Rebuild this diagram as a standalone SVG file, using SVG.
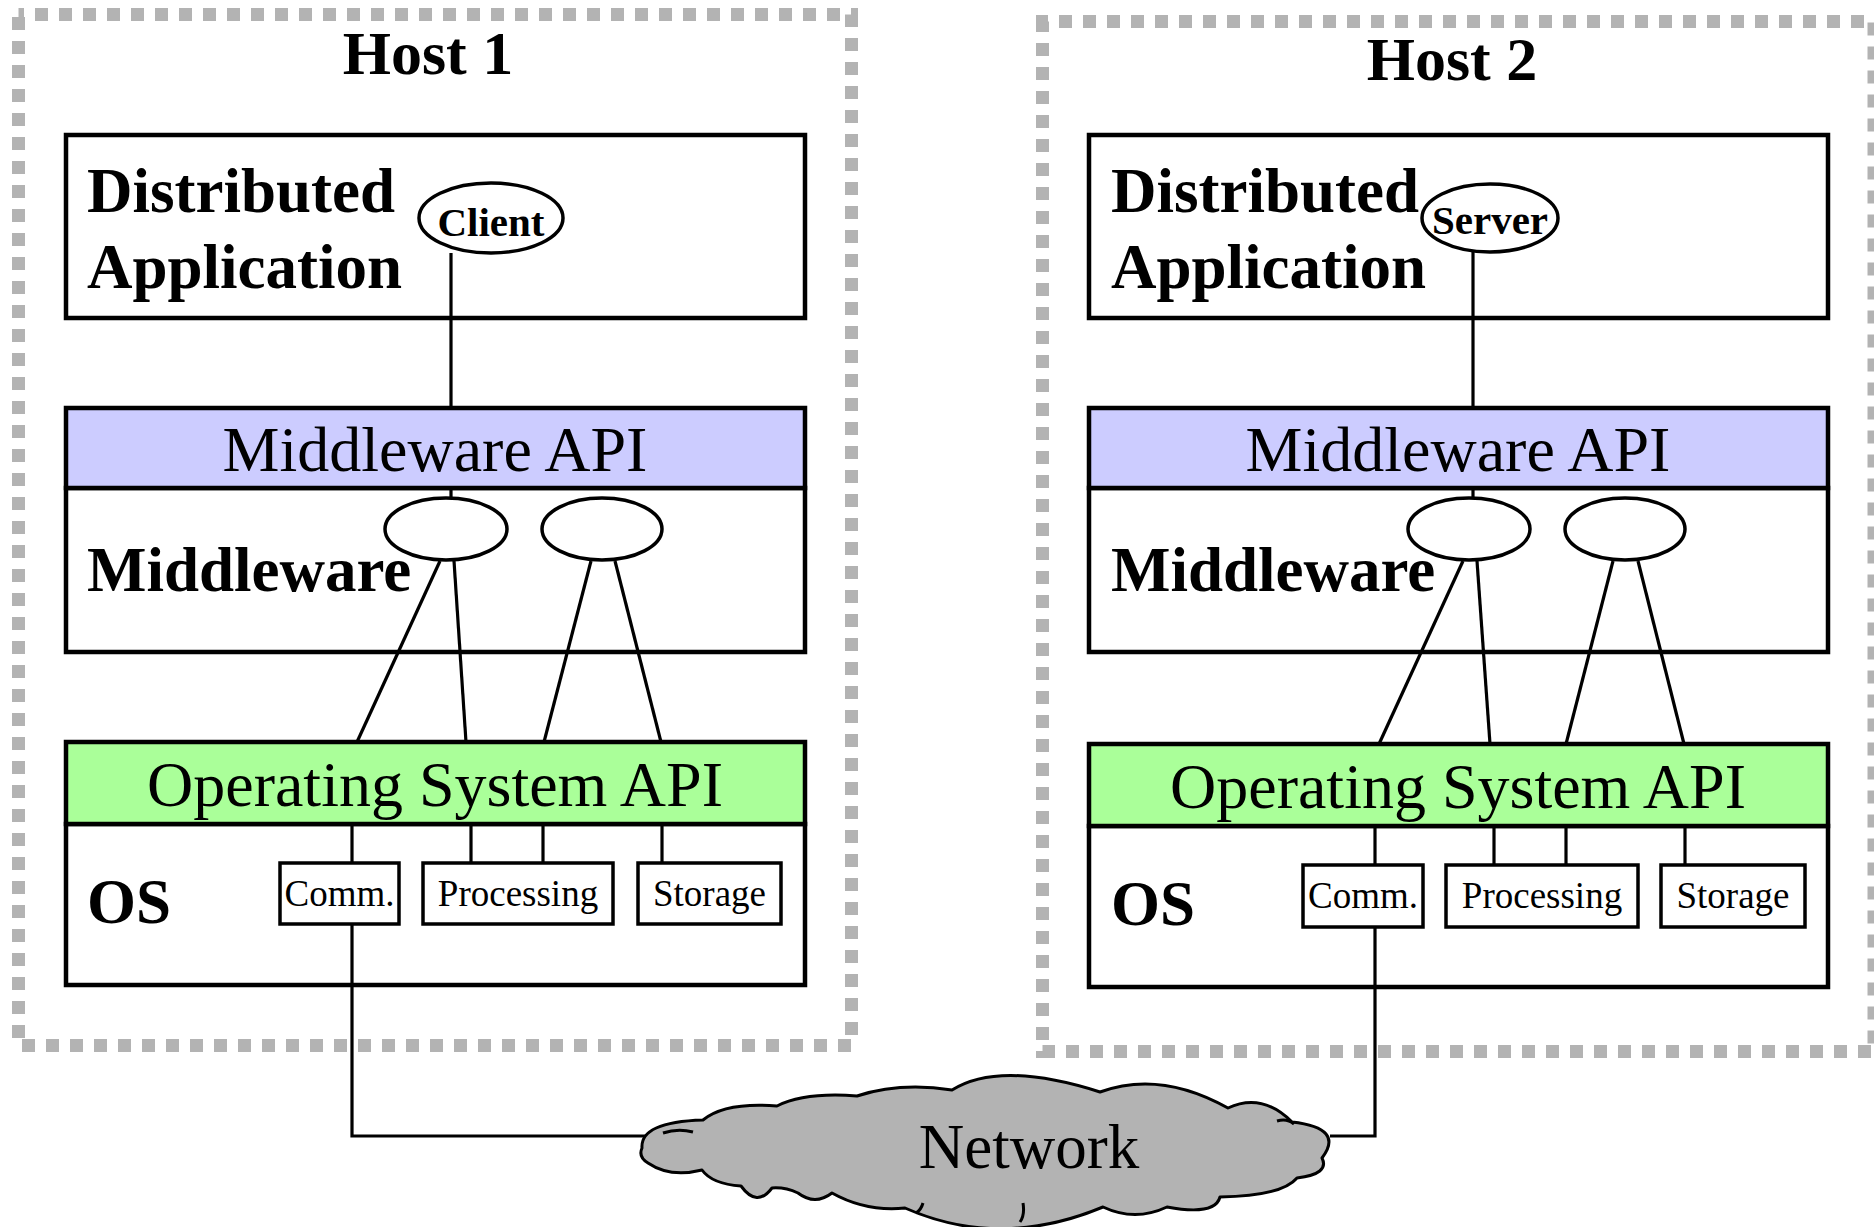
<svg xmlns="http://www.w3.org/2000/svg" width="1874" height="1227" viewBox="0 0 1874 1227">
<style>
text{font-family:"Liberation Serif","Times New Roman",serif;fill:#000}
.title{font-size:62px;font-weight:bold;text-anchor:middle}
.bold{font-size:63px;font-weight:bold}
.api{font-size:64px;text-anchor:middle}
.small{font-size:37px;text-anchor:middle}
.oval{font-size:41px;font-weight:bold;text-anchor:middle}
.net{font-size:63px;text-anchor:middle}
.host{fill:none;stroke:#b3b3b3;stroke-width:13;stroke-dasharray:13 11;stroke-dashoffset:7.5}
.box{fill:#fff;stroke:#000;stroke-width:4.5}
.mwapi{fill:#ccccff;stroke:#000;stroke-width:4.5}
.osapi{fill:#aaff99;stroke:#000;stroke-width:4.5}
.sbox{fill:#fff;stroke:#000;stroke-width:3.5}
.ell{fill:#fff;stroke:#000;stroke-width:3.5}
.conn line,.conn polyline{stroke:#000;stroke-width:3.2;fill:none}
.cloud{fill:#b3b3b3;stroke:#000;stroke-width:3;stroke-linejoin:round}
</style>

<g id="host1">
<rect class="host" x="18.5" y="14.5" width="833" height="1031"/>
<text class="title" x="428" y="74">Host 1</text>
</g>
<g id="host2">
<rect class="host" x="1042.5" y="21.5" width="831.5" height="1030"/>
<text class="title" x="1452" y="80">Host 2</text>
</g>

<g id="h1-app">
<rect class="box" x="66" y="135" width="739" height="183"/>
<text class="bold" x="87" y="212">Distributed</text>
<text class="bold" x="87" y="288">Application</text>
</g>
<g id="h1-client">
<ellipse class="ell" cx="491" cy="218" rx="72" ry="35"/>
<text class="oval" x="491" y="236">Client</text>
</g>
<g id="h1-middleware">
<rect class="box" x="66" y="488" width="739" height="164"/>
<rect class="mwapi" x="66" y="408" width="739" height="80"/>
<text class="api" x="435" y="471">Middleware API</text>
<text class="bold" x="87" y="591">Middleware</text>
</g>
<g id="h1-mw1"><ellipse class="ell" cx="446" cy="529" rx="61" ry="31"/></g>
<g id="h1-mw2"><ellipse class="ell" cx="602" cy="529" rx="60" ry="31"/></g>
<g id="h1-os">
<rect class="box" x="66" y="824" width="739" height="161"/>
<rect class="osapi" x="66" y="742" width="739" height="82"/>
<text class="api" x="435" y="806">Operating System API</text>
<text class="bold" x="87" y="923">OS</text>
</g>
<g id="h1-comm"><rect class="sbox" x="280" y="863" width="119" height="61"/><text class="small" x="339.5" y="906">Comm.</text></g>
<g id="h1-proc"><rect class="sbox" x="423" y="863" width="190" height="61"/><text class="small" x="518" y="906">Processing</text></g>
<g id="h1-stor"><rect class="sbox" x="638" y="863" width="143" height="61"/><text class="small" x="709.5" y="906">Storage</text></g>

<g id="h2-app">
<rect class="box" x="1089" y="135" width="739" height="183"/>
<text class="bold" x="1111" y="212">Distributed</text>
<text class="bold" x="1111" y="288">Application</text>
</g>
<g id="h2-server">
<ellipse class="ell" cx="1490" cy="218" rx="68" ry="34"/>
<text class="oval" x="1490" y="234">Server</text>
</g>
<g id="h2-middleware">
<rect class="box" x="1089" y="488" width="739" height="164"/>
<rect class="mwapi" x="1089" y="408" width="739" height="80"/>
<text class="api" x="1458" y="471">Middleware API</text>
<text class="bold" x="1111" y="591">Middleware</text>
</g>
<g id="h2-mw1"><ellipse class="ell" cx="1469" cy="529" rx="61" ry="31"/></g>
<g id="h2-mw2"><ellipse class="ell" cx="1625" cy="529" rx="60" ry="31"/></g>
<g id="h2-os">
<rect class="box" x="1089" y="826" width="739" height="161"/>
<rect class="osapi" x="1089" y="744" width="739" height="82"/>
<text class="api" x="1458" y="808">Operating System API</text>
<text class="bold" x="1111" y="925">OS</text>
</g>
<g id="h2-comm"><rect class="sbox" x="1303" y="865" width="120" height="62"/><text class="small" x="1363" y="908">Comm.</text></g>
<g id="h2-proc"><rect class="sbox" x="1446" y="865" width="192" height="62"/><text class="small" x="1542" y="908">Processing</text></g>
<g id="h2-stor"><rect class="sbox" x="1661" y="865" width="144" height="62"/><text class="small" x="1733" y="908">Storage</text></g>

<g class="conn" id="connectors">
<line x1="451" y1="253" x2="451" y2="408"/>
<line x1="451" y1="488" x2="451" y2="498"/>
<line x1="440" y1="561" x2="357" y2="742"/>
<line x1="454" y1="561" x2="466" y2="742"/>
<line x1="591" y1="561" x2="544" y2="742"/>
<line x1="615" y1="561" x2="661" y2="742"/>
<line x1="352" y1="824" x2="352" y2="863"/>
<line x1="471" y1="824" x2="471" y2="863"/>
<line x1="543" y1="824" x2="543" y2="863"/>
<line x1="662" y1="824" x2="662" y2="863"/>
<polyline points="352,924 352,1136 652,1136"/>

<line x1="1473" y1="252" x2="1473" y2="408"/>
<line x1="1473" y1="488" x2="1473" y2="498"/>
<line x1="1463" y1="561" x2="1379" y2="744"/>
<line x1="1477" y1="561" x2="1490" y2="744"/>
<line x1="1613" y1="561" x2="1566" y2="744"/>
<line x1="1638" y1="561" x2="1684" y2="744"/>
<line x1="1375" y1="826" x2="1375" y2="865"/>
<line x1="1494" y1="826" x2="1494" y2="865"/>
<line x1="1566" y1="826" x2="1566" y2="865"/>
<line x1="1685" y1="826" x2="1685" y2="865"/>
<polyline points="1375,927 1375,1136 1330,1136"/>
</g>

<g id="network">
<path class="cloud" d="M642,1148 Q640,1122 703,1120 Q725,1102 777,1106 Q805,1092 857,1096 Q900,1082 952,1090 Q1000,1060 1100,1092 Q1160,1070 1228,1108 Q1262,1092 1292,1122 Q1345,1128 1322,1158 Q1330,1174 1297,1178 Q1282,1196 1220,1197 Q1215,1216 1167,1207 Q1135,1222 1103,1207 Q1000,1250 905,1208 Q866,1212 832,1193 Q815,1206 798,1193 Q785,1187 772,1188 Q757,1208 741,1186 Q712,1184 702,1170 Q670,1178 648,1163 Q638,1157 642,1148 Z"/>
<path d="M663,1133 Q678,1128 693,1132 M1277,1121 Q1287,1118 1294,1124 M923,1203 Q921,1210 916,1213 M1023,1203 Q1025,1215 1020,1222" fill="none" stroke="#000" stroke-width="3"/>
<text class="net" x="1029" y="1168">Network</text>
</g>
</svg>
